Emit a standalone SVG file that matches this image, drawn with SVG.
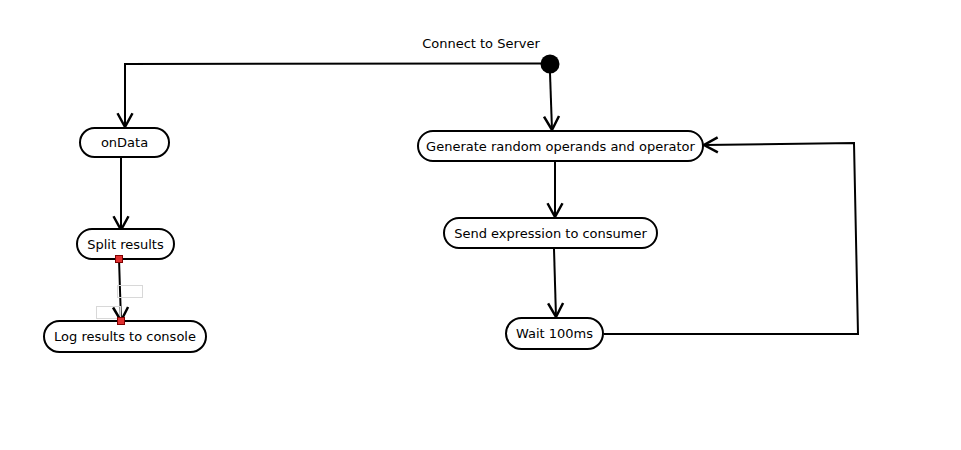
<svg xmlns="http://www.w3.org/2000/svg" width="961" height="450" viewBox="0 0 961 450">
<defs>
<style>
.node rect{fill:#fff;stroke:#000;stroke-width:2}
.node text{font-family:"DejaVu Sans",sans-serif;font-size:13px;fill:#000;text-anchor:middle}
.edge{fill:none;stroke:#000;stroke-width:2}
.lbl{font-family:"DejaVu Sans",sans-serif;font-size:13px;fill:#000;text-anchor:middle}
.ghost{fill:none;stroke:#d8d8d8;stroke-width:1}
.port{fill:#e03030;stroke:#800000;stroke-width:1}
</style>
<marker id="arr" markerUnits="userSpaceOnUse" markerWidth="20" markerHeight="20" viewBox="-12 -8 14 16" refX="0" refY="0" orient="auto">
<path d="M-11,-6 L0,0 L-11,6" fill="none" stroke="#000" stroke-width="2"/>
</marker>
</defs>
<rect width="961" height="450" fill="#fff"/>
<g id="connectors">
<path class="edge" d="M541,63.5 L125,64 L125,127" marker-end="url(#arr)"/>
<path class="edge" d="M550,73 L552,130" marker-end="url(#arr)"/>
<path class="edge" d="M121,158 L121,230" marker-end="url(#arr)"/>
<path class="edge" d="M119,259 L121,321" marker-end="url(#arr)"/>
<path class="edge" d="M555,162 L555,217" marker-end="url(#arr)"/>
<path class="edge" d="M554,249 L556,317" marker-end="url(#arr)"/>
<path class="edge" d="M604,334 L858,334 L854,143 L704,145" marker-end="url(#arr)"/>
<rect class="ghost" x="117.5" y="285.5" width="25" height="12"/>
<rect class="ghost" x="96.5" y="306.5" width="24" height="12"/>
</g>
<g id="start">
<circle cx="550" cy="64" r="9.5" fill="#000"/>
<text class="lbl" x="481" y="48">Connect to Server</text>
</g>
<g id="onData" class="node">
<rect x="80" y="128" width="89" height="29" rx="14.5"/>
<text x="124.5" y="147">onData</text>
</g>
<g id="split" class="node">
<rect x="77" y="229" width="97" height="30" rx="15"/>
<text x="125.5" y="249">Split results</text>
</g>
<g id="log" class="node">
<rect x="44" y="321" width="162" height="31" rx="15.5"/>
<text x="125" y="341">Log results to console</text>
</g>
<g id="generate" class="node">
<rect x="418" y="131" width="285" height="30" rx="15"/>
<text x="560.5" y="151">Generate random operands and operator</text>
</g>
<g id="send" class="node">
<rect x="444" y="218" width="213" height="30" rx="15"/>
<text x="550.5" y="238">Send expression to consumer</text>
</g>
<g id="wait" class="node">
<rect x="506" y="318" width="97" height="31" rx="15.5"/>
<text x="554.5" y="338">Wait 100ms</text>
</g>
<g id="ports">
<rect class="port" x="115.5" y="255.5" width="7" height="7"/>
<rect class="port" x="117.5" y="317.5" width="7" height="7"/>
</g>
</svg>
